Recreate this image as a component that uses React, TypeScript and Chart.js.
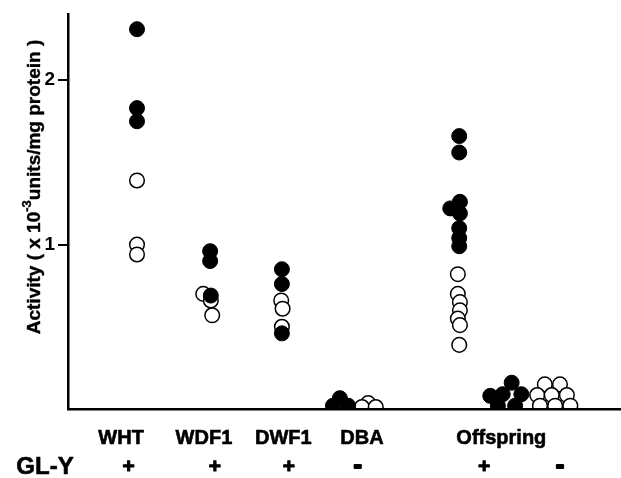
import React, { useEffect, useRef } from "react";
import { Chart, registerables } from "chart.js";

Chart.register(...registerables);

// ---- data (x = position along the axis, y = activity) ----
const whtFilledX = [1.0, 1.0, 1.0];
const whtFilledY = [2.31, 1.83, 1.75];
const whtOpenX = [1.0, 1.0, 1.0];
const whtOpenY = [1.39, 1.0, 0.94];

const wdf1FilledX = [2.06, 2.06, 2.07];
const wdf1FilledY = [0.96, 0.9, 0.69];
const wdf1OpenX = [1.96, 2.07, 2.09];
const wdf1OpenY = [0.7, 0.66, 0.57];

const dwf1FilledX = [3.1, 3.1, 3.1];
const dwf1FilledY = [0.85, 0.76, 0.46];
const dwf1OpenX = [3.09, 3.11, 3.1];
const dwf1OpenY = [0.66, 0.61, 0.5];

const dbaFilledX = [3.94, 3.84, 4.06];
const dbaFilledY = [0.066, 0.02, 0.02];
const dbaOpenX = [4.35, 4.26, 4.46];
const dbaOpenY = [0.036, 0.012, 0.012];

const offPlusFilledX = [5.67, 5.67, 5.68, 5.54, 5.68, 5.67, 5.67, 5.67];
const offPlusFilledY = [1.66, 1.56, 1.26, 1.22, 1.19, 1.1, 1.04, 0.99];
const offPlusOpenX = [5.65, 5.65, 5.68, 5.68, 5.65, 5.68, 5.67];
const offPlusOpenY = [0.82, 0.7, 0.65, 0.6, 0.55, 0.51, 0.39];

const offMinusFilledX = [6.12, 6.3, 6.43, 6.57, 6.23, 6.48];
const offMinusFilledY = [0.08, 0.09, 0.16, 0.09, 0.02, 0.02];
const offMinusOpenX = [6.91, 7.13, 6.8, 7.01, 7.23, 6.84, 7.06, 7.28];
const offMinusOpenY = [0.15, 0.15, 0.085, 0.085, 0.085, 0.02, 0.02, 0.02];

const yTicks = [1, 2];
const categoryLabels = ["WHT", "WDF1", "DWF1", "DBA", "Offspring"];
const categoryLabelX = [0.77, 1.97, 3.12, 4.26, 6.28];
const glyLabels = ["+", "+", "+", "-", "+", "-"];
const glyLabelX = [0.88, 2.13, 3.2, 4.2, 6.03, 7.13];
const glyTitle = "GL-Y";

const FONT = '"Liberation Sans", Arial, Helvetica, sans-serif';

function pts(xs: number[], ys: number[]) {
  return ys.map((y, i) => ({ x: xs[i], y }));
}

const filledPoints = [
  ...pts(whtFilledX, whtFilledY),
  ...pts(wdf1FilledX, wdf1FilledY),
  ...pts(dwf1FilledX, dwf1FilledY),
  ...pts(dbaFilledX, dbaFilledY),
  ...pts(offPlusFilledX, offPlusFilledY),
  ...pts(offMinusFilledX, offMinusFilledY),
];
const openPoints = [
  ...pts(whtOpenX, whtOpenY),
  ...pts(wdf1OpenX, wdf1OpenY),
  ...pts(dwf1OpenX, dwf1OpenY),
  ...pts(dbaOpenX, dbaOpenY),
  ...pts(offPlusOpenX, offPlusOpenY),
  ...pts(offMinusOpenX, offMinusOpenY),
];

function heavyText(ctx: CanvasRenderingContext2D, t: string, x: number, y: number, w: number) {
  ctx.lineWidth = w;
  ctx.strokeText(t, x, y);
  ctx.fillText(t, x, y);
}

const labelsPlugin = {
  id: "labelsPlugin",
  afterDraw(chart: any) {
    const ctx = chart.ctx as CanvasRenderingContext2D;
    const xs = chart.scales.x;
    ctx.save();
    ctx.fillStyle = "#000";
    ctx.strokeStyle = "#000";
    ctx.lineJoin = "round";
    ctx.textAlign = "center";
    ctx.textBaseline = "alphabetic";
    ctx.font = `bold 20px ${FONT}`;
    categoryLabels.forEach((t, i) => {
      heavyText(ctx, t, xs.getPixelForValue(categoryLabelX[i]), 444, 0.6);
    });
    glyLabels.forEach((t, i) => {
      ctx.font = t === "-" ? `bold 24px ${FONT}` : `bold 21px ${FONT}`;
      heavyText(ctx, t, xs.getPixelForValue(glyLabelX[i]), 473, t === "-" ? 2.2 : 1);
    });
    ctx.font = `bold 24px ${FONT}`;
    heavyText(ctx, glyTitle, 45, 474, 0.6);

    // rotated y-axis title with superscript
    ctx.translate(35, 187);
    ctx.rotate(-Math.PI / 2);
    ctx.textAlign = "left";
    ctx.textBaseline = "middle";
    const mainFont = `bold 19px ${FONT}`;
    const supFont = `bold 13px ${FONT}`;
    const parts = [
      { t: "Activity ( x 10", f: mainFont, dy: 0 },
      { t: "-3", f: supFont, dy: -8 },
      { t: "units/mg protein )", f: mainFont, dy: 0 },
    ];
    let total = 0;
    parts.forEach((p) => {
      ctx.font = p.f;
      total += ctx.measureText(p.t).width;
    });
    let x = -total / 2;
    parts.forEach((p) => {
      ctx.font = p.f;
      heavyText(ctx, p.t, x, p.dy, 0.4);
      x += ctx.measureText(p.t).width;
    });
    ctx.restore();
  },
};

export default function App() {
  const ref = useRef<HTMLCanvasElement>(null);
  useEffect(() => {
    if (!ref.current) return;
    const clip = { left: false, top: false, right: false, bottom: 0 };
    const chart = new Chart(ref.current, {
      type: "scatter",
      data: {
        datasets: [
          {
            label: "filled",
            data: filledPoints,
            backgroundColor: "#000",
            borderColor: "#000",
            borderWidth: 1,
            pointRadius: 7.5,
            pointHoverRadius: 7.5,
            clip,
          } as any,
          {
            label: "open",
            data: openPoints,
            backgroundColor: "#fff",
            borderColor: "#000",
            borderWidth: 1.5,
            pointRadius: 7.3,
            pointHoverRadius: 7.3,
            clip,
          } as any,
        ],
      },
      options: {
        animation: false,
        responsive: false,
        devicePixelRatio: 1,
        events: [],
        layout: { autoPadding: false, padding: { top: 11, right: 1, left: 0, bottom: 0 } },
        plugins: { legend: { display: false }, tooltip: { enabled: false } },
        scales: {
          x: {
            type: "linear",
            min: 0,
            max: 8,
            grid: { display: false },
            ticks: { display: false },
            border: { display: true, color: "#000", width: 2.5, z: 1 },
            afterFit: (s: any) => {
              s.height = 69;
            },
          },
          y: {
            type: "linear",
            min: 0,
            max: 2.4,
            afterBuildTicks: (s: any) => {
              s.ticks = yTicks.map((v) => ({ value: v }));
            },
            ticks: {
              color: "#000",
              padding: 3,
              font: { family: FONT, size: 19, weight: "bold" },
              callback: (v: any) => String(v),
            },
            grid: {
              drawOnChartArea: false,
              drawTicks: true,
              tickLength: 10,
              color: "#000",
              lineWidth: 2,
            },
            border: { display: true, color: "#000", width: 2.5, z: 1 },
            afterFit: (s: any) => {
              s.width = 68;
            },
          },
        },
      } as any,
      plugins: [labelsPlugin],
    });
    return () => chart.destroy();
  }, []);
  return (
    <div style={{ position: "fixed", left: 0, top: 0, width: 621, height: 478, background: "#fff" }}>
      <canvas ref={ref} width={621} height={478} style={{ display: "block", width: 621, height: 478 }} />
    </div>
  );
}
